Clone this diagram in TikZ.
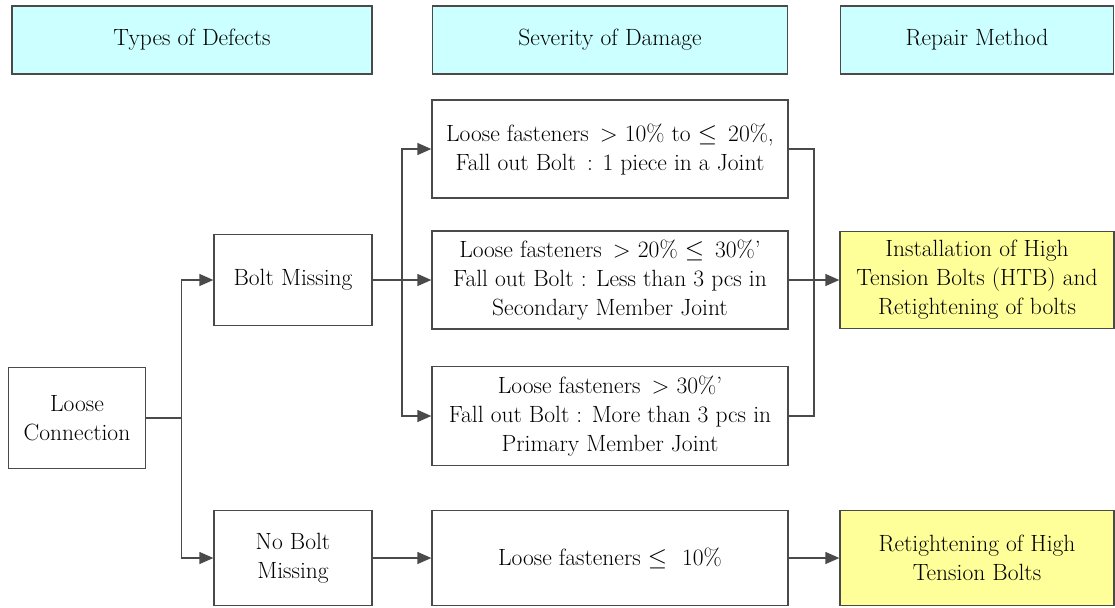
\documentclass[tikz,border=0pt]{standalone}
\usetikzlibrary{arrows.meta, calc}
\definecolor{hdcyan}{HTML}{CCFFFF}
\definecolor{fixyellow}{HTML}{FFFF99}
\definecolor{lngray}{HTML}{4A4A4A}
\newcommand\boxfont{\fontsize{23.5}{29}\selectfont}

\begin{document}
\begin{tikzpicture}[
  x=1pt, y=-1pt,
  >={Triangle[length=14pt, width=12pt]},
  plainbox/.style 2 args={
    draw=lngray, line width=1.3pt, fill=white,
    minimum width=#1, minimum height=#2, inner sep=0pt,
    font=\boxfont, text=black, align=center
  },
  headbox/.style={plainbox={#1}{68pt}, fill=hdcyan},
  fixbox/.style 2 args={plainbox={#1}{#2}, fill=fixyellow},
  line/.style={line width=1.3pt, lngray},
  arr/.style={->, line width=1.3pt, lngray},
]

% Frame
\useasboundingbox (0,0) rectangle (1115,607);

% =============================================
% Column headings
% =============================================
\node[headbox=360pt] (htype) at (192,40) {Types of Defects};
\node[headbox=355pt] (hsev)  at (610,40) {Severity of Damage};
\node[headbox=273pt] (hfix)  at (977,40) {Repair Method};

% =============================================
% Types of defects
% =============================================
\node[plainbox={137pt}{101pt}] (loose) at (77,418)
  {Loose\\Connection};
\node[plainbox={158pt}{91pt}] (bolt) at (293,280)
  {Bolt Missing};
\node[plainbox={158pt}{95pt}] (nobolt) at (293,558)
  {No Bolt\\Missing};

% =============================================
% Severity of damage
% =============================================
\node[plainbox={356pt}{98pt}] (sev1) at (610,149)
  {Loose fasteners \,> 10\% to $\leq$\, 20\%,\\
   Fall out Bolt \,: 1 piece in a Joint};
\node[plainbox={356pt}{98pt}] (sev2) at (610,280)
  {Loose fasteners \,> 20\% $\leq$\, 30\%’\\
   Fall out Bolt : Less than 3 pcs in\\
   Secondary Member Joint};
\node[plainbox={356pt}{99pt}] (sev3) at (610,416)
  {Loose fasteners \,> 30\%’\\
   Fall out Bolt : More than 3 pcs in\\
   Primary Member Joint};
\node[plainbox={356pt}{95pt}] (sev4) at (610,558)
  {Loose fasteners $\leq$\,\, 10\%};

% =============================================
% Repair method
% =============================================
\node[fixbox={274pt}{97pt}] (fix1) at (977,280)
  {Installation of High\\
   Tension Bolts (HTB) and\\
   Retightening of bolts};
\node[fixbox={274pt}{95pt}] (fix2) at (977,558)
  {Retightening of High\\Tension Bolts};

% =============================================
% Connectors
% =============================================
\coordinate (jloose) at ($(loose.east)!0.53!(bolt.west |- loose.east)$);
\draw[line] (loose.east) -- (jloose);
\draw[arr] (jloose) |- (bolt.west);
\draw[arr] (jloose) |- (nobolt.west);

\coordinate (jbolt) at ($(bolt.east)!0.5!(sev2.west)$);
\draw[arr] (bolt.east) -- (sev2.west);
\draw[arr] (jbolt) |- (sev1.west);
\draw[arr] (jbolt) |- (sev3.west);
\draw[arr] (nobolt.east) -- (sev4.west);

\coordinate (jsev) at ($(sev2.east)!0.5!(fix1.west)$);
\draw[line] (sev1.east) -| (jsev) |- (sev3.east);
\draw[arr] (sev2.east) -- (fix1.west);
\draw[arr] (sev4.east) -- (fix2.west);

\end{tikzpicture}
\end{document}
